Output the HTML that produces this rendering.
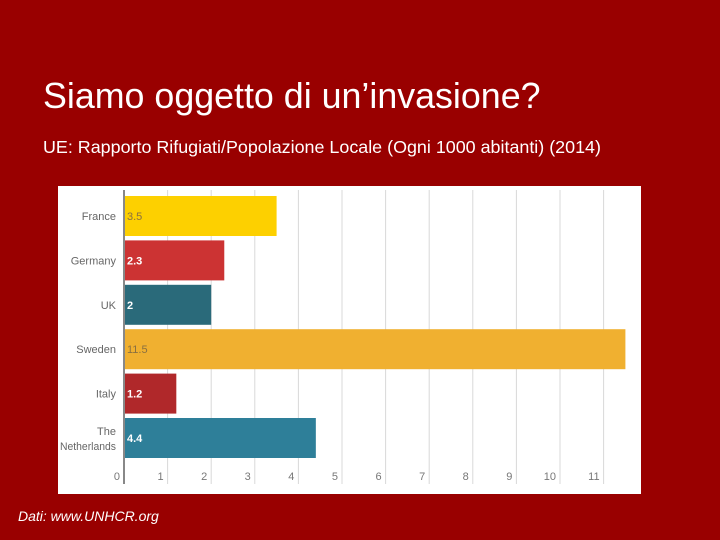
<!DOCTYPE html>
<html><head><meta charset="utf-8"><style>
body{margin:0;width:720px;height:540px;background:#990000;position:relative;overflow:hidden;font-family:"Liberation Sans",sans-serif;}
.t{position:absolute;color:#fff;white-space:nowrap;}
</style></head><body>
<div class="t" style="left:43px;top:76px;font-size:35.8px;">Siamo oggetto di un’invasione?</div>
<div class="t" style="left:43px;top:137px;font-size:17.9px;">UE: Rapporto Rifugiati/Popolazione Locale (Ogni 1000 abitanti) (2014)</div>
<svg style="position:absolute;left:0;top:0" width="720" height="540" id="c"></svg>
<div class="t" style="left:18px;top:508px;font-size:14px;font-style:italic;">Dati: www.UNHCR.org</div>
<script>
const categories=["France","Germany","UK","Sweden","Italy","The Netherlands"];
const values=[3.5,2.3,2,11.5,1.2,4.4];
const labels=["3.5","2.3","2","11.5","1.2","4.4"];
const colors=["#fdd000","#cc3333","#2a6a7a","#f0b030","#b0282a","#2e7f99"];
const ticks=[0,1,2,3,4,5,6,7,8,9,10,11];
const svg=document.getElementById('c');const NS='http://www.w3.org/2000/svg';
const x0=124,k=43.6,yTop=196,step=44.4,bh=40;
const X=v=>x0+v*k;const Y=i=>yTop+i*step;
function mk(t,a){const e=document.createElementNS(NS,t);for(const n in a)e.setAttribute(n,a[n]);svg.appendChild(e);return e;}
let p=mk('rect',{x:58,y:186,width:583,height:308,fill:'#fff'});


ticks.forEach(t=>{if(t>0){let g=mk('line',{x1:X(t),x2:X(t),y1:190,y2:484,stroke:'#d8d8d8','stroke-width':1});

}
let l=mk('text',{x:X(t)-4,y:480,'text-anchor':'end','font-size':11,fill:'#777'});l.textContent=t;

});
categories.forEach((c,i)=>{let b=mk('rect',{x:x0,y:Y(i),width:values[i]*k,height:bh,fill:colors[i]});


let light=(i==0||i==3);
let v=mk('text',{x:x0+3,y:Y(i)+bh/2+4,'font-size':11,'font-weight':light?'normal':'bold',fill:light?'#8a7040':'#fff'});v.textContent=labels[i];


const parts=c=="The Netherlands"?["The","Netherlands"]:[c];
parts.forEach((s,j)=>{let t=mk('text',{x:116,y:Y(i)+bh/2+4+(parts.length>1?(j*15-7):0),'text-anchor':'end','font-size':11,fill:'#666'});t.textContent=s;
if(s=="Netherlands"){t.setAttribute('textLength','56');t.setAttribute('lengthAdjust','spacingAndGlyphs');}

});});
let ax=mk('line',{x1:x0,x2:x0,y1:190,y2:484,stroke:'#888','stroke-width':2});


</script>
</body></html>
